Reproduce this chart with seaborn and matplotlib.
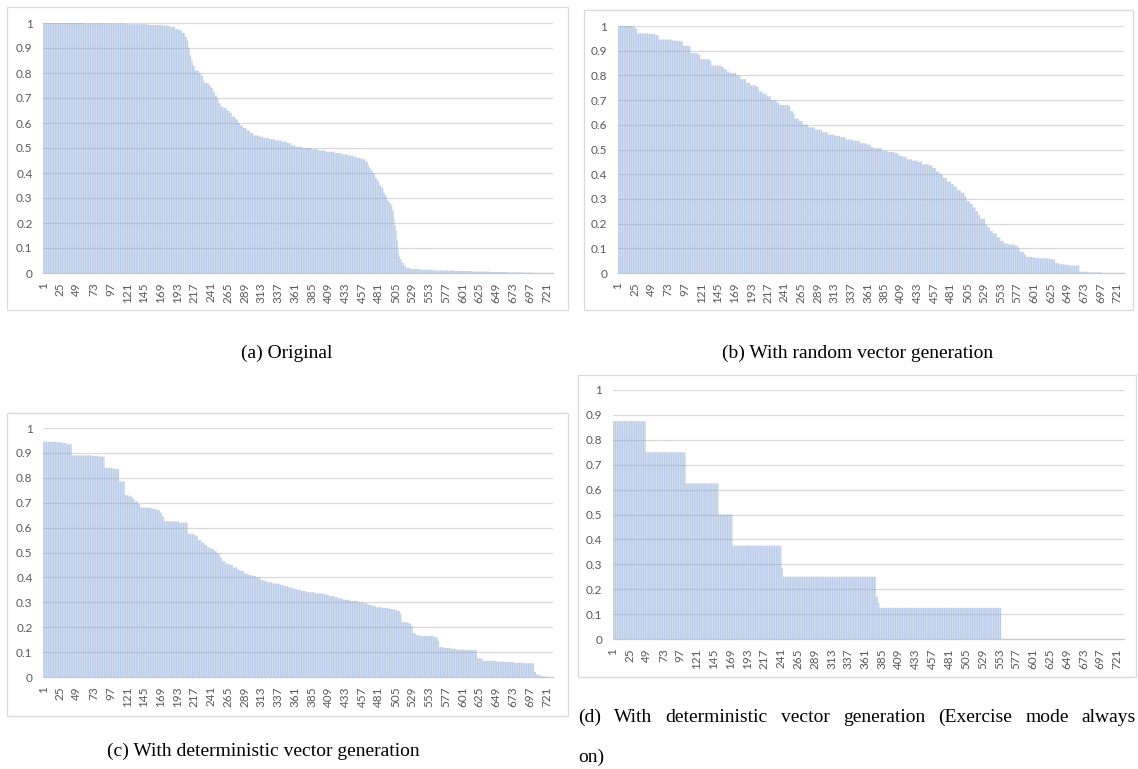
import numpy as np
import pandas as pd
import matplotlib
matplotlib.use("Agg")
import matplotlib.pyplot as plt
import seaborn as sns
from matplotlib.patches import Rectangle

# ---------------- data ----------------
N_BARS = 730
x_tick_values = list(range(1, 722, 24))
x_tick_labels = [str(v) for v in x_tick_values]
y_tick_values = [0, 0.1, 0.2, 0.3, 0.4, 0.5, 0.6, 0.7, 0.8, 0.9, 1.0]
y_tick_labels = ["0", "0.1", "0.2", "0.3", "0.4", "0.5", "0.6", "0.7", "0.8", "0.9", "1"]

captions = ["(a) Original",
            "(b) With random vector generation",
            "(c) With deterministic vector generation",
            "(d) With deterministic vector generation (Exercise mode always on)"]

# each series: bar index where a level starts, and that level (sorted descending values)
a_start = [1, 60, 120, 150, 170, 182, 190, 196, 200, 204, 207, 209, 211, 213, 215, 218, 224,
           227, 230, 232, 238, 241, 244, 247, 250, 252, 255, 259, 264, 268, 271, 276, 280,
           283, 287, 292, 297, 302, 310, 316, 325, 333, 342, 350, 356, 362, 372, 385, 395,
           405, 418, 428, 437, 445, 450, 457, 462, 466, 468, 470, 473, 476, 479, 482, 485,
           488, 490, 493, 496, 499, 501, 503, 504, 506, 507, 509, 510, 512, 514, 517, 520,
           526, 540, 560, 590, 615, 640, 665, 690, 705]
a_level = [1.0, 0.998, 0.995, 0.992, 0.99, 0.985, 0.975, 0.97, 0.96, 0.945, 0.93, 0.90, 0.87,
           0.85, 0.83, 0.81, 0.80, 0.79, 0.77, 0.76, 0.75, 0.74, 0.725, 0.71, 0.70, 0.68, 0.665,
           0.66, 0.65, 0.64, 0.625, 0.615, 0.60, 0.59, 0.58, 0.57, 0.56, 0.55, 0.545, 0.54,
           0.535, 0.53, 0.525, 0.52, 0.51, 0.505, 0.50, 0.495, 0.49, 0.485, 0.48, 0.475, 0.47,
           0.465, 0.46, 0.455, 0.445, 0.43, 0.42, 0.41, 0.40, 0.38, 0.37, 0.35, 0.34, 0.32,
           0.31, 0.29, 0.28, 0.27, 0.25, 0.22, 0.19, 0.17, 0.13, 0.09, 0.065, 0.055, 0.04,
           0.03, 0.02, 0.016, 0.013, 0.01, 0.008, 0.006, 0.004, 0.002, 0.001, 0.0]

b_start = [1, 20, 26, 29, 45, 55, 60, 80, 93, 95, 106, 116, 120, 134, 136, 150, 154, 158, 162,
           172, 178, 186, 192, 200, 204, 210, 216, 222, 230, 234, 248, 250, 254, 256, 262, 268,
           276, 285, 296, 304, 314, 322, 330, 340, 350, 360, 366, 370, 382, 390, 400, 406, 412,
           418, 426, 434, 440, 450, 455, 460, 465, 470, 476, 482, 486, 490, 496, 501, 504, 509,
           513, 517, 521, 524, 531, 534, 538, 542, 548, 553, 558, 564, 574, 579, 581, 587, 590,
           600, 608, 620, 627, 632, 638, 646, 652, 667, 680, 700]
b_level = [1.0, 0.998, 0.99, 0.97, 0.968, 0.963, 0.945, 0.94, 0.935, 0.92, 0.89, 0.885, 0.865,
           0.86, 0.84, 0.835, 0.825, 0.815, 0.81, 0.80, 0.785, 0.77, 0.76, 0.755, 0.735, 0.725,
           0.715, 0.70, 0.69, 0.68, 0.675, 0.655, 0.645, 0.625, 0.615, 0.60, 0.59, 0.58, 0.57,
           0.56, 0.555, 0.55, 0.54, 0.535, 0.525, 0.52, 0.51, 0.505, 0.495, 0.49, 0.485, 0.475,
           0.47, 0.46, 0.455, 0.45, 0.44, 0.435, 0.425, 0.41, 0.40, 0.385, 0.37, 0.36, 0.35,
           0.335, 0.325, 0.31, 0.29, 0.28, 0.265, 0.25, 0.235, 0.22, 0.195, 0.185, 0.17, 0.16,
           0.145, 0.13, 0.12, 0.115, 0.11, 0.10, 0.085, 0.075, 0.065, 0.062, 0.06, 0.058, 0.055,
           0.04, 0.035, 0.033, 0.03, 0.005, 0.002, 0.0]

c_start = [1, 20, 28, 35, 42, 70, 80, 89, 100, 104, 110, 118, 124, 129, 132, 137, 140, 156,
           163, 168, 171, 174, 196, 208, 216, 220, 223, 228, 232, 236, 241, 246, 250, 254, 257,
           262, 268, 273, 279, 284, 289, 295, 300, 306, 312, 317, 322, 330, 340, 346, 352, 358,
           364, 370, 378, 390, 404, 410, 418, 424, 430, 440, 452, 460, 466, 472, 478, 486, 496,
           503, 508, 512, 514, 524, 528, 530, 535, 540, 560, 566, 568, 574, 584, 592, 605, 622,
           630, 650, 662, 675, 690, 704, 707, 711, 716, 722]
c_level = [0.945, 0.943, 0.94, 0.935, 0.89, 0.888, 0.885, 0.84, 0.838, 0.835, 0.785, 0.73,
           0.725, 0.715, 0.705, 0.695, 0.68, 0.675, 0.67, 0.66, 0.645, 0.625, 0.62, 0.575, 0.57,
           0.565, 0.55, 0.54, 0.53, 0.52, 0.515, 0.505, 0.495, 0.48, 0.465, 0.455, 0.45, 0.44,
           0.43, 0.425, 0.415, 0.41, 0.405, 0.40, 0.39, 0.385, 0.38, 0.375, 0.37, 0.365, 0.36,
           0.355, 0.35, 0.345, 0.34, 0.335, 0.33, 0.325, 0.32, 0.315, 0.31, 0.305, 0.30, 0.295,
           0.29, 0.285, 0.28, 0.277, 0.273, 0.27, 0.265, 0.255, 0.22, 0.215, 0.205, 0.175, 0.168,
           0.165, 0.16, 0.145, 0.12, 0.117, 0.113, 0.11, 0.108, 0.075, 0.065, 0.062, 0.06, 0.057,
           0.055, 0.02, 0.01, 0.005, 0.002, 0.0]

d_start = [1, 48, 105, 152, 172, 242, 244, 377, 380, 382, 556]
d_level = [0.875, 0.75, 0.625, 0.5, 0.375, 0.285, 0.25, 0.17, 0.145, 0.125, 0.0]


def expand(starts, levels):
    idx = np.arange(1, N_BARS + 1)
    pos = np.searchsorted(np.asarray(starts), idx, side="right") - 1
    return idx, np.asarray(levels, dtype=float)[pos]


# ---------------- layout (pixels) ----------------
W, H = 1138, 769
BAR_COLOR = "#7FA3D6"
GRID = "#D9D9D9"
TICK_COLOR = "#595959"

panels = [
    dict(series=(a_start, a_level), ax=(43, 23, 553, 273), frame=(7, 7, 568, 310),
         cap=(287, 353)),
    dict(series=(b_start, b_level), ax=(617.7, 26, 1123.7, 273), frame=(584, 10, 1133, 310),
         cap=(858, 353)),
    dict(series=(c_start, c_level), ax=(43, 428, 553, 677), frame=(7, 413, 568, 716),
         cap=(263, 751)),
    dict(series=(d_start, d_level), ax=(612.7, 390, 1123.7, 639), frame=(578, 375, 1136, 677),
         cap=None),
]

sns.set_theme(style="white")
plt.rcParams["font.family"] = ["Lato", "DejaVu Sans"]

fig = plt.figure(figsize=(W / 100, H / 100), dpi=100)
fig.patch.set_facecolor("white")

for p in panels:
    x0, y0, x1, y1 = p["frame"]
    fig.add_artist(Rectangle((x0 / W, 1 - y1 / H), (x1 - x0) / W, (y1 - y0) / H,
                             transform=fig.transFigure, fill=False, edgecolor=GRID, lw=0.9))
    l, t, r, b = p["ax"]
    ax = fig.add_axes([l / W, 1 - b / H, (r - l) / W, (b - t) / H])
    idx, vals = expand(*p["series"])
    df = pd.DataFrame({"bar": idx, "value": vals})
    sns.barplot(data=df, x="bar", y="value", native_scale=True, color=BAR_COLOR,
                saturation=1, width=0.5, errorbar=None, linewidth=0, ax=ax)
    for patch in ax.patches:
        patch.set_snap(False)
        patch.set_antialiased(True)
    ax.set_xlim(0.5, N_BARS + 0.5)
    ax.set_ylim(0, 1)
    ax.set_yticks(y_tick_values)
    ax.set_yticklabels(y_tick_labels)
    ax.set_xticks(x_tick_values)
    ax.set_xticklabels(x_tick_labels, rotation=90)
    ax.tick_params(axis="both", length=0, labelsize=8.5, colors=TICK_COLOR)
    ax.tick_params(axis="y", pad=7.5)
    ax.tick_params(axis="x", pad=6.5)
    ax.yaxis.grid(True, color=GRID, lw=0.9)
    ax.xaxis.grid(False)
    ax.set_axisbelow(True)
    for s in ["top", "right", "left"]:
        ax.spines[s].set_visible(False)
    ax.spines["bottom"].set_color("#C8C8C8")
    ax.spines["bottom"].set_linewidth(0.9)
    ax.set_xlabel("")
    ax.set_ylabel("")
    ax.set_facecolor("none")

SERIF = ["Liberation Serif", "DejaVu Serif"]
for p, cap in zip(panels, captions):
    if p["cap"] is not None:
        cx, cy = p["cap"]
        fig.text(cx / W, 1 - cy / H, cap, ha="center", va="center", family=SERIF,
                 fontsize=14, color="black")

# caption (d): justified first line, then "on)"
words = captions[3].split(" ")
line1, line2 = words[:-1], words[-1]
left_px, right_px, y_px = 578, 1136, 717
renderer = fig.canvas.get_renderer()
texts = [fig.text(0, 1 - y_px / H, w_, ha="left", va="center", family=SERIF, fontsize=14,
                  color="black") for w_ in line1]
widths = [t_.get_window_extent(renderer).width for t_ in texts]
gap = (right_px - left_px - sum(widths)) / (len(line1) - 1)
xpos = left_px
for t_, w_ in zip(texts, widths):
    t_.set_x(xpos / W)
    xpos += w_ + gap
fig.text(left_px / W, 1 - 757 / H, line2, ha="left", va="center", family=SERIF, fontsize=14,
         color="black")

fig.savefig("out.png", dpi=100, facecolor="white")
